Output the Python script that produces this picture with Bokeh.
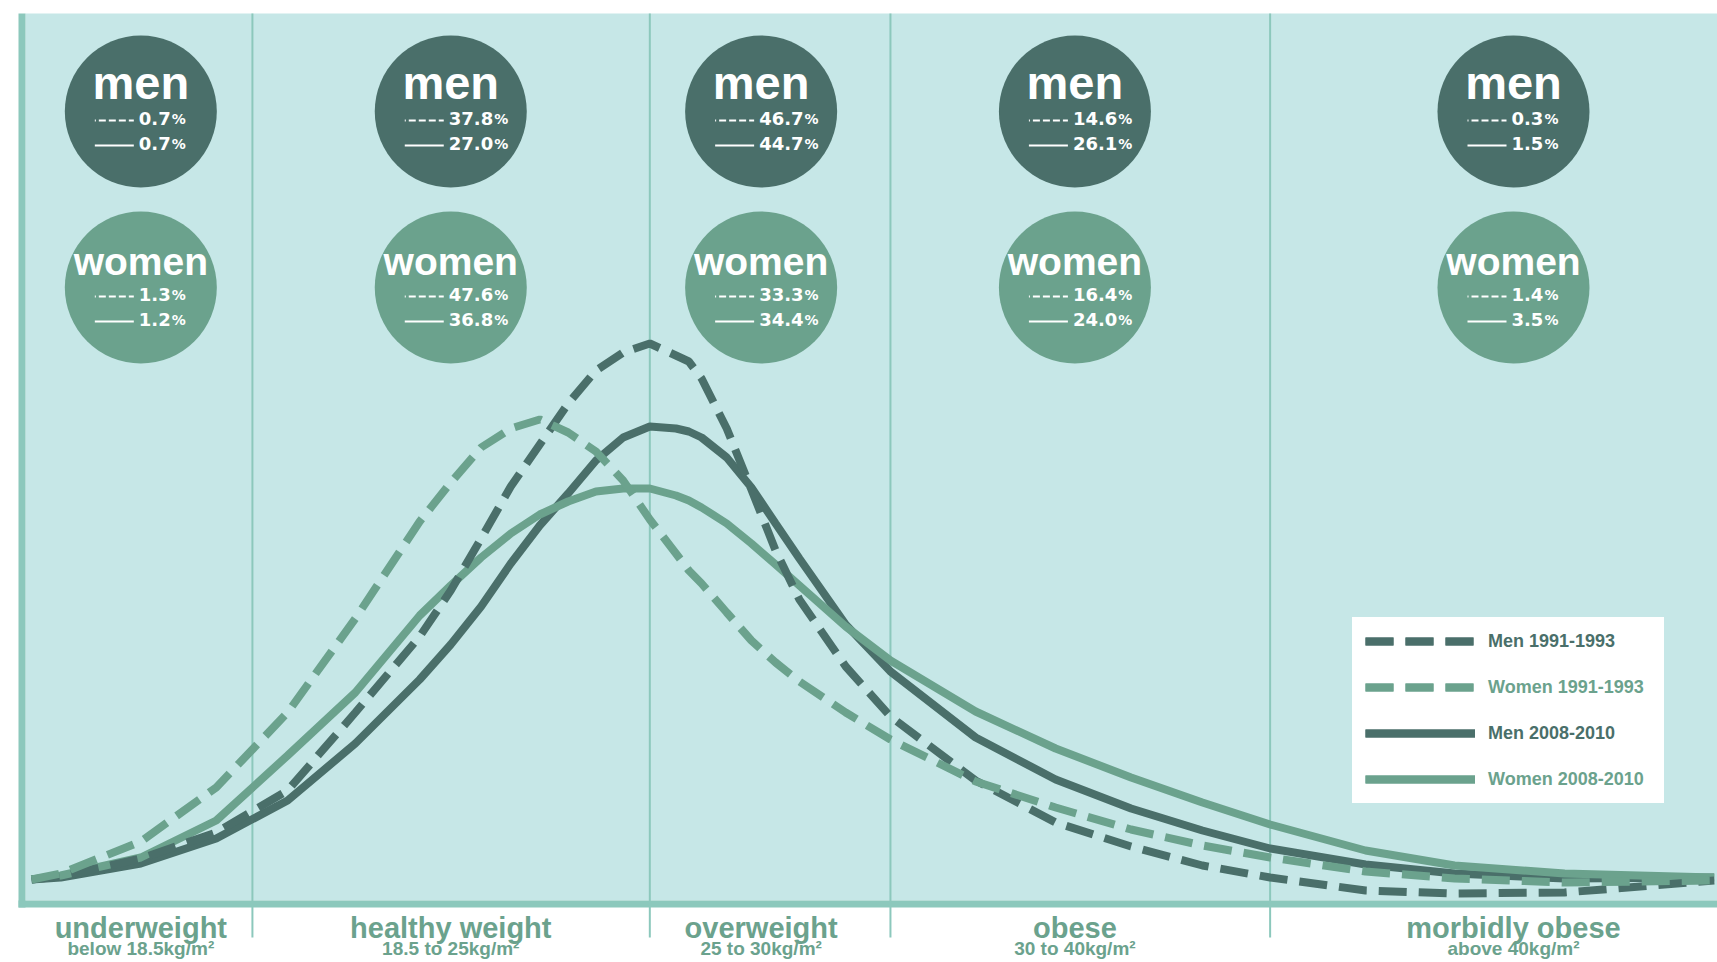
import math
from bokeh.plotting import figure
from bokeh.models import Range1d, Legend, LegendItem
from bokeh.core.properties import value
from bokeh.embed import file_html
from bokeh.resources import INLINE

# ---------------- data ----------------
categories = ["underweight", "healthy weight", "overweight", "obese", "morbidly obese"]
bmi_ranges = ["below 18.5kg/m\u00b2", "18.5 to 25kg/m\u00b2", "25 to 30kg/m\u00b2",
              "30 to 40kg/m\u00b2", "above 40kg/m\u00b2"]
bmi_bounds = [18.5, 25, 30, 40]
cat_center = [17.0, 21.5, 27.2, 34.5, 48.1]

men_1991 = [0.7, 37.8, 46.7, 14.6, 0.3]
men_2010 = [0.7, 27.0, 44.7, 26.1, 1.5]
women_1991 = [1.3, 47.6, 33.3, 16.4, 1.4]
women_2010 = [1.2, 36.8, 34.4, 24.0, 3.5]

bmi = [15.65, 16, 17, 18, 19, 20, 21, 21.5, 22, 22.5, 23, 23.5, 24, 24.5, 25, 25.5, 25.75,
       26, 26.5, 27, 27.5, 28, 29, 30, 32, 34, 36, 38, 40, 43, 46, 50, 56]
men_1991_curve = [0.0, 0.3, 2.1, 4.7, 8.9, 16.7, 24.3, 28.9, 34.1, 39.3, 43.5, 47.6, 50.9,
                  52.7, 53.6, 52.4, 51.8, 50.1, 45.1, 39.0, 32.9, 28.0, 21.3, 16.3, 9.9, 5.7,
                  3.3, 1.4, 0.2, -1.1, -1.4, -1.3, -0.1]
women_1991_curve = [0.0, 0.6, 3.8, 9.2, 16.7, 26.1, 35.8, 39.7, 43.2, 45.1, 46.0, 44.7, 42.8,
                    39.9, 36.0, 32.6, 30.9, 29.6, 26.7, 23.9, 21.7, 19.8, 16.7, 14.0, 9.8, 7.2,
                    5.0, 3.4, 2.2, 0.8, 0.1, -0.3, -0.1]
men_2010_curve = [0.0, 0.2, 1.6, 4.1, 7.9, 13.6, 20.0, 23.5, 27.3, 31.6, 35.4, 38.6, 41.9,
                  44.2, 45.3, 45.1, 44.8, 44.2, 42.2, 39.2, 35.6, 32.1, 25.5, 20.8, 14.2, 10.0,
                  7.1, 4.9, 3.1, 1.5, 0.6, 0.1, 0.2]
women_2010_curve = [0.0, 0.4, 2.2, 5.9, 12.4, 18.7, 26.4, 29.4, 32.2, 34.6, 36.5, 37.8, 38.8,
                    39.1, 39.1, 38.4, 37.9, 37.2, 35.6, 33.6, 31.5, 29.4, 25.3, 21.9, 16.8, 13.1,
                    10.2, 7.7, 5.5, 2.9, 1.4, 0.6, 0.2]

series_labels = ["Men 1991-1993", "Women 1991-1993", "Men 2008-2010", "Women 2008-2010"]

# ---------------- layout helpers (pixel <-> data) ----------------
W, H = 1717, 962
PX_PER_LN = 1319.8          # horizontal px per unit of ln(BMI)
X1 = 56.14                  # BMI at right edge
X0 = X1 / math.exp(W / PX_PER_LN)
BASE_PX = 879               # y = 0 sits here (px from top)
PX_PER_Y = 10.0
Y0 = (BASE_PX - H) / PX_PER_Y
Y1 = BASE_PX / PX_PER_Y
TEXT_DY = -9                # baseline correction for svg text


def px2x(px):
    return X0 * math.exp(px / PX_PER_LN)


def py2y(py):
    return (BASE_PX - py) / PX_PER_Y


def xshift(x, dpx):
    return x * math.exp(dpx / PX_PER_LN)


BG = "#c6e7e7"
TEAL = "#8cc8bc"
DARK = "#4a6f6a"
LIGHT = "#6ba28d"
MEN_Y, WOMEN_Y = py2y(111), py2y(287)
NUM_SIZE = 18
PCT_SIZE = 14


def num_width(s, size):
    return sum(0.380 if ch == "." else 0.696 for ch in s) * size


p = figure(width=W, height=H, x_axis_type="log",
           x_range=Range1d(X0, X1), y_range=Range1d(Y0, Y1),
           x_axis_location=None, y_axis_location=None,
           output_backend="svg", toolbar_location=None)
p.min_border = 0
p.background_fill_color = "white"
p.border_fill_color = "white"
p.outline_line_color = None
p.grid.visible = False

# plot panel, dividers, axis bars
p.quad(left=[px2x(25)], right=[X1], bottom=[py2y(900)], top=[py2y(13)],
       fill_color=BG, line_color=None)
p.segment(x0=bmi_bounds, y0=[py2y(13)] * 4, x1=bmi_bounds, y1=[py2y(937)] * 4,
          line_color=TEAL, line_width=2)
p.quad(left=[px2x(18)], right=[px2x(25)], bottom=[py2y(907)], top=[py2y(13)],
       fill_color=TEAL, line_color=None)
p.quad(left=[px2x(18)], right=[X1], bottom=[py2y(907)], top=[py2y(900)],
       fill_color=TEAL, line_color=None)

# circles
p.scatter(cat_center, [MEN_Y] * 5, size=152, marker="circle", fill_color=DARK, line_color=None)
p.scatter(cat_center, [WOMEN_Y] * 5, size=152, marker="circle", fill_color=LIGHT, line_color=None)

p.text(cat_center, [MEN_Y] * 5, text=["men"] * 5, text_font=value("Liberation Sans"),
       text_font_style="bold", text_font_size="47px", text_color="white",
       text_align="center", text_baseline="alphabetic", y_offset=-29)
p.text(cat_center, [WOMEN_Y] * 5, text=["women"] * 5, text_font=value("Liberation Sans"),
       text_font_style="bold", text_font_size="39px", text_color="white",
       text_align="center", text_baseline="alphabetic", y_offset=-26)

for cy, old, new in [(MEN_Y, men_1991, men_2010), (WOMEN_Y, women_1991, women_2010)]:
    for row, vals in enumerate([old, new]):
        base = 16 + 25 * row
        strs = ["%.1f" % v for v in vals]
        p.text(cat_center, [cy] * 5, text=strs, text_font=value("DejaVu Sans"),
               text_font_style="bold", text_font_size="%dpx" % NUM_SIZE, text_color="white",
               text_align="left", text_baseline="alphabetic", x_offset=-2,
               y_offset=base + TEXT_DY)
        for cx, s in zip(cat_center, strs):
            p.text([cx], [cy], text=["%"], text_font=value("DejaVu Sans"),
                   text_font_style="bold", text_font_size="%dpx" % PCT_SIZE,
                   text_color="white", text_align="left", text_baseline="alphabetic",
                   x_offset=-1 + num_width(s, NUM_SIZE), y_offset=base + TEXT_DY)
        ym = cy - (base - 7) / PX_PER_Y
        x0s = [xshift(c, -46) for c in cat_center]
        x1s = [xshift(c, -7) for c in cat_center]
        if row == 0:
            p.segment(x0s, [ym] * 5, x1s, [ym] * 5, line_color="white", line_width=2,
                      line_dash="7 3", line_dash_offset=6)
        else:
            p.segment(x0s, [ym] * 5, x1s, [ym] * 5, line_color="white", line_width=2)

# curves
r_ms = p.line(bmi, men_2010_curve, line_color=DARK, line_width=8)
r_ws = p.line(bmi, women_2010_curve, line_color=LIGHT, line_width=8)
r_md = p.line(bmi, men_1991_curve, line_color=DARK, line_width=8, line_dash="28 12")
r_wd = p.line(bmi, women_1991_curve, line_color=LIGHT, line_width=8, line_dash="28 12")

# category labels below the axis bar
p.text(cat_center, [py2y(936)] * 5, text=categories, text_font=value("Liberation Sans"),
       text_font_style="bold", text_font_size="29px", text_color=LIGHT,
       text_align="center", text_baseline="alphabetic", y_offset=TEXT_DY)
p.text(cat_center, [py2y(957)] * 5, text=bmi_ranges, text_font=value("Liberation Sans"),
       text_font_style="bold", text_font_size="19px", text_color=LIGHT,
       text_align="center", text_baseline="alphabetic", y_offset=TEXT_DY)

# legend: two stacked legends so men/women labels get their own colours
common = dict(location=(1352, H - 803), margin=0, padding=12, spacing=24, glyph_width=110,
              glyph_height=22, label_height=22, label_width=163, label_standoff=13,
              border_line_color="white", border_line_width=1,
              label_text_font="Liberation Sans",
              label_text_font_style="bold", label_text_font_size="18px")
rends = [r_md, r_wd, r_ms, r_ws]
legA = Legend(items=[LegendItem(label=(lab if i % 2 == 0 else " "), renderers=[r])
                     for i, (lab, r) in enumerate(zip(series_labels, rends))],
              background_fill_color="white", background_fill_alpha=1.0,
              label_text_color=DARK, **common)
legB = Legend(items=[LegendItem(label=(lab if i % 2 == 1 else " "), renderers=[r])
                     for i, (lab, r) in enumerate(zip(series_labels, rends))],
              background_fill_alpha=0.0, label_text_color=LIGHT, **common)
p.add_layout(legA)
p.add_layout(legB)

open("out.html", "w").write(file_html(p, INLINE))
